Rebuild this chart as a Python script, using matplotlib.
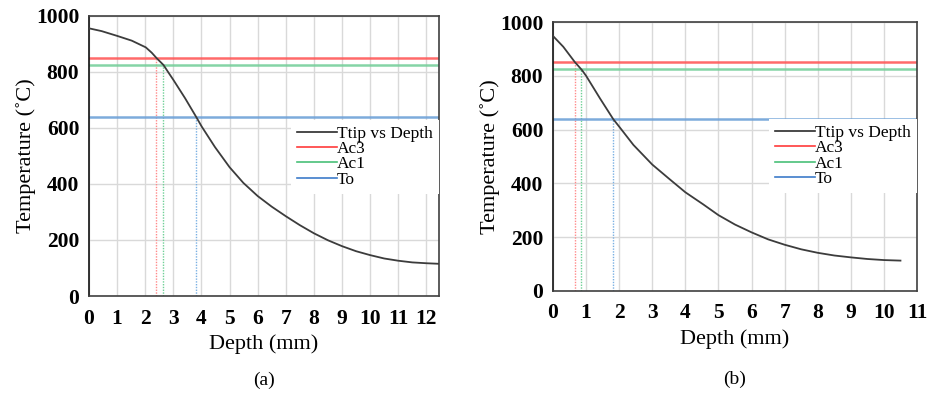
import numpy as np
import matplotlib
matplotlib.use("Agg")
import matplotlib.pyplot as plt
from matplotlib.lines import Line2D

# ---------------- data ----------------
depth_a = [0, 0.45, 1.0, 1.52, 2.02, 2.23, 2.41, 2.65, 2.82, 3.0, 3.42, 3.81, 4.01,
           4.48, 5.0, 5.49, 6.0, 6.5, 7.0, 7.5, 8.0, 8.5, 9.0, 9.5, 10.0, 10.5,
           11.0, 11.5, 12.0, 12.45]
temp_a = [956, 946, 929, 912, 888, 869, 849, 825, 799, 772, 706, 640, 605,
          532, 460, 404, 357, 319, 285, 253, 224, 199, 178, 160, 146, 134,
          126, 120, 117, 115]

depth_b = [0, 0.31, 0.66, 0.87, 1.0, 1.42, 1.82, 2.0, 2.43, 3.0, 3.53, 4.0, 4.54,
           5.0, 5.5, 6.0, 6.5, 7.0, 7.5, 8.0, 8.5, 9.0, 9.5, 10.0, 10.5]
temp_b = [948, 908, 851, 822, 800, 716, 639, 611, 543, 470, 415, 367, 322,
          282, 247, 218, 192, 172, 155, 142, 132, 125, 119, 115, 113]

thresholds = {"Ac3": 850, "Ac1": 825, "To": 640}
x_ticks_a = list(range(0, 13))
x_ticks_b = list(range(0, 12))
y_ticks = [0, 200, 400, 600, 800, 1000]
captions = ["(a)", "(b)"]

# ---------------- style ----------------
plt.rcParams['font.family'] = ['Liberation Serif', 'DejaVu Serif']
line_cols = {"Ac3": "#ff5a5a", "Ac1": "#78d09c", "To": "#6fa2d8"}
hand_cols = {"Ac3": "#ff3b3b", "Ac1": "#49c078", "To": "#3d7cc9"}
vert_cols = {"Ac3": "#ff8a8a", "Ac1": "#6fd096", "To": "#7ab0e3"}

fig = plt.figure(figsize=(9.29, 3.93), dpi=100)
ax_a = fig.add_axes([89/929, 1-296/393, 350/929, 280/393])
ax_b = fig.add_axes([553/929, 1-291/393, 364/929, 269/393])


def draw(ax, depth, temp, xticks, xmax, caption, legend_anchor, cap_y):
    ax.set_xlim(0, xmax)
    ax.set_ylim(0, 1000)
    ax.set_xticks(xticks)
    ax.set_yticks(y_ticks)
    ax.grid(True, color="#d9d9d9", lw=1.0, zorder=0)
    ax.set_axisbelow(True)
    ax.tick_params(length=0, labelsize=15.5)
    ax.tick_params(axis='x', pad=9)
    ax.tick_params(axis='y', pad=7)
    for lab in ax.get_xticklabels() + ax.get_yticklabels():
        lab.set_fontweight('bold')
    for s in ax.spines.values():
        s.set_color("#404040")
        s.set_linewidth(1.2)
    ax.spines['left'].set_color("#111111")

    d_rev = np.array(depth)[::-1]
    t_rev = np.array(temp)[::-1]
    for name, val in thresholds.items():
        ax.axhline(val, color=line_cols[name], lw=1.8, alpha=0.9, zorder=2)
        xc = np.interp(val, t_rev, d_rev)
        ax.vlines(xc, 0, val, color=vert_cols[name], lw=1.0, linestyles=(0, (1, 1)), zorder=2)
    ax.plot(depth, temp, color="#3c3c3c", lw=1.3, zorder=3)

    ax.set_xlabel("Depth (mm)", fontsize=16, labelpad=4)
    ax.set_ylabel("Temperature (˚C)", fontsize=16, labelpad=0)
    ax.text(0.5, cap_y, caption, transform=ax.transAxes,
            ha='center', va='center', fontsize=14)

    handles = [Line2D([], [], color="#2a2a2a", lw=1.2)] + \
              [Line2D([], [], color=hand_cols[n], lw=1.2) for n in thresholds]
    labels = ["Ttip vs Depth"] + list(thresholds.keys())
    leg = ax.legend(handles, labels, loc='upper right', bbox_to_anchor=legend_anchor,
                    frameon=True, fancybox=False, framealpha=1.0, edgecolor='none',
                    facecolor='white', fontsize=12.5, handlelength=2.3,
                    handletextpad=0.0, labelspacing=-0.05, borderpad=0.35,
                    borderaxespad=0)
    leg.set_zorder(5)


draw(ax_a, depth_a, temp_a, x_ticks_a, 12.45, captions[0], (1.0, 0.63), -0.30)
draw(ax_b, depth_b, temp_b, x_ticks_b, 11, captions[1], (1.0, 0.64), -0.33)

fig.savefig("out.png", dpi=100)
